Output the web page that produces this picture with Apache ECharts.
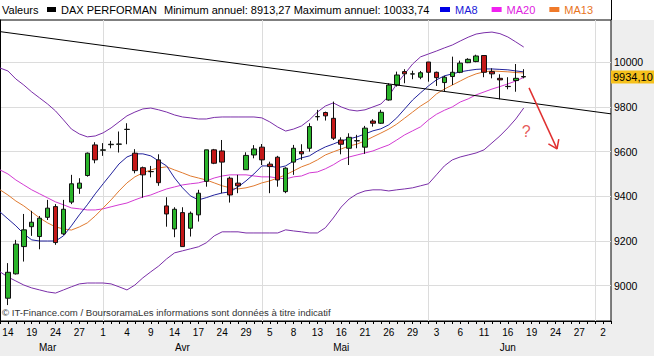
<!DOCTYPE html>
<html>
<head>
<meta charset="utf-8">
<title>DAX PERFORMAN</title>
<script src="https://cdn.jsdelivr.net/npm/echarts@6.0.0/dist/echarts.min.js"></script>
<style>
html,body{margin:0;padding:0;background:#eeeeee;overflow:hidden}
#chart{width:654px;height:356px}
</style>
</head>
<body>
<div id="chart"></div>
<script>
// ---------------- data ----------------
const tradingDays = [
 '2014-03-13','2014-03-14','2014-03-17','2014-03-18','2014-03-19','2014-03-20','2014-03-21','2014-03-24','2014-03-25','2014-03-26','2014-03-27','2014-03-28','2014-03-31',
 '2014-04-01','2014-04-02','2014-04-03','2014-04-04','2014-04-07','2014-04-08','2014-04-09','2014-04-10','2014-04-11','2014-04-14','2014-04-15','2014-04-16','2014-04-17','2014-04-22','2014-04-23','2014-04-24','2014-04-25','2014-04-28','2014-04-29','2014-04-30',
 '2014-05-02','2014-05-05','2014-05-06','2014-05-07','2014-05-08','2014-05-09','2014-05-12','2014-05-13','2014-05-14','2014-05-15','2014-05-16','2014-05-19','2014-05-20','2014-05-21','2014-05-22','2014-05-23','2014-05-26','2014-05-27','2014-05-28','2014-05-29','2014-05-30',
 '2014-06-02','2014-06-03','2014-06-04','2014-06-05','2014-06-06','2014-06-09','2014-06-10','2014-06-11','2014-06-12','2014-06-13','2014-06-16','2014-06-17','2014-06-18','2014-06-19','2014-06-20','2014-06-23','2014-06-24','2014-06-25','2014-06-26','2014-06-27','2014-06-30',
 '2014-07-01','2014-07-02','2014-07-03'
];

const opens = [
 null, 8944, 9053, 9175, 9264, 9220, 9306, 9354, 9232, 9374,
 9436, 9493, 9630, 9606, 9631, 9633, 9699, 9593, 9528, 9510,
 9563, 9357, 9254, 9327, 9257, 9317, 9467, 9608, 9603, 9481,
 9459, 9519, 9585, 9620, 9544, 9575, 9421, 9553, 9600, 9615,
 9756, 9775, 9749, 9652, 9615, 9648, 9620, 9737, 9727, 9831,
 9898, 9958, 9947, 9933, 10001, 9955, 9909, 9936, 9955, 9998,
 10003, 10030, 9958, 9928, 9891, 9918, 9936
];
const closes = [
 null, 9060, 9186, 9250, 9284, 9302, 9347, 9193, 9342, 9456,
 9459, 9593, 9563, 9608, 9633, 9634, 9700, 9515, 9496, 9511,
 9461, 9321, 9342, 9175, 9324, 9414, 9608, 9548, 9553, 9406,
 9447, 9583, 9612, 9563, 9533, 9473, 9526, 9615, 9590, 9712,
 9757, 9760, 9660, 9633, 9664, 9649, 9705, 9727, 9776, 9898,
 9943, 9948, 9948, 9953, 9955, 9931, 9933, 9955, 9996, 10013,
 10028, 9955, 9948, 9921, 9892, 9928, 9934.10
];
const lows = [
 null, 8913.27, 9050, 9108, 9223, 9163, 9294, 9183, 9227, 9365,
 9411, 9488, 9548, 9581, 9615, 9596, 9633, 9503, 9394, 9485,
 9447, 9264, 9217, 9175, 9220, 9287, 9443, 9544, 9414, 9372,
 9414, 9519, 9570, 9540, 9414, 9443, 9414, 9496, 9563, 9600,
 9739, 9739, 9652, 9588, 9540, 9615, 9590, 9712, 9724, 9828,
 9891, 9906, 9924, 9924, 9913, 9894, 9868, 9898, 9951, 9996,
 10000, 9933, 9928, 9834, 9879, 9868, 9928
];
const highs = [
 null, 9101, 9205, 9321, 9335, 9312, 9384, 9365, 9384, 9496,
 9481, 9596, 9642, 9638, 9648, 9690, 9727, 9611, 9533, 9536,
 9588, 9396, 9351, 9351, 9332, 9429, 9608, 9612, 9652, 9488,
 9496, 9597, 9629, 9634, 9555, 9581, 9530, 9630, 9633, 9727,
 9787, 9779, 9824, 9664, 9682, 9675, 9715, 9745, 9787, 9906,
 9958, 9969, 9962, 9961, 10001, 9958, 9939, 10025, 10007, 10018,
 10033.74, 10032, 9973, 9946, 9933, 9992, 9969
];

const ma8 = [
 9330, 9299, 9268, 9232, 9205, 9200, 9200, 9200, 9223, 9268,
 9317, 9362, 9411, 9456, 9500, 9545, 9576, 9590, 9590, 9581,
 9558, 9536, 9482, 9438, 9402, 9384, 9394, 9406, 9415, 9420,
 9442, 9469, 9500, 9536, 9536, 9528, 9536, 9558, 9572, 9581,
 9603, 9621, 9634, 9648, 9657, 9666, 9679, 9693, 9702, 9720,
 9751, 9791, 9831, 9863, 9894, 9921, 9939, 9948, 9957, 9963,
 9968, 9970, 9970, 9968, 9966, 9961, 9957
];
const ma13 = [
 9429, 9406, 9379, 9357, 9330, 9303, 9281, 9263, 9254, 9249,
 9263, 9281, 9312, 9348, 9384, 9424, 9460, 9487, 9505, 9518,
 9527, 9532, 9518, 9505, 9491, 9482, 9473, 9460, 9447, 9438,
 9433, 9438, 9447, 9460, 9469, 9482, 9496, 9514, 9532, 9545,
 9563, 9585, 9599, 9612, 9625, 9634, 9648, 9666, 9683, 9701,
 9723, 9750, 9777, 9804, 9826, 9858, 9880, 9898, 9916, 9934,
 9948, 9957, 9961, 9959, 9957, 9954, 9952
];
const ma20 = [
 9518, 9500, 9473, 9451, 9429, 9411, 9393, 9375, 9362, 9348,
 9344, 9339, 9339, 9344, 9353, 9362, 9370, 9384, 9397, 9406,
 9420, 9433, 9442, 9451, 9456, 9460, 9469, 9482, 9491, 9496,
 9496, 9496, 9491, 9487, 9487, 9482, 9478, 9487, 9491, 9505,
 9509, 9523, 9541, 9563, 9576, 9585, 9594, 9603, 9617, 9630,
 9652, 9675, 9693, 9711, 9742, 9767, 9785, 9800, 9822, 9836,
 9854, 9867, 9880, 9891, 9903, 9916, 9932
];
const bollingerHigh = [
 9974, 9961, 9925, 9898, 9867, 9840, 9813, 9782, 9742, 9701,
 9679, 9666, 9670, 9684, 9706, 9733, 9760, 9777, 9791, 9795,
 9787, 9777, 9764, 9755, 9751, 9746, 9746, 9753, 9755, 9755,
 9755, 9755, 9755, 9751, 9733, 9710, 9692, 9701, 9715, 9742,
 9777, 9804, 9818, 9800, 9787, 9782, 9787, 9800, 9813, 9849,
 9903, 9948, 9992, 10024, 10037, 10050, 10064, 10077, 10095, 10112,
 10126, 10132, 10135, 10128, 10113, 10091, 10068
];
const bollingerLow = [
 9062, 9039, 9021, 9003, 8990, 8981, 8972, 8967, 8981, 8995,
 9008, 9012, 9012, 9012, 9008, 8995, 8981, 9003, 9035, 9062,
 9088, 9120, 9147, 9156, 9165, 9174, 9192, 9223, 9241, 9241,
 9241, 9236, 9236, 9236, 9236, 9236, 9250, 9245, 9241, 9236,
 9236, 9259, 9303, 9352, 9388, 9411, 9424, 9429, 9429, 9424,
 9429, 9433, 9438, 9447, 9456, 9496, 9536, 9563, 9576, 9585,
 9594, 9608, 9639, 9670, 9706, 9746, 9795
];

// hand-drawn annotations, in (trading-day index, price) units
const trendLine = [[0, 10137], [77, 9769]];
const arrowLine = [[66.67, 9885], [70.2, 9612]];
const arrowHead = [[69.11, 9635], [70.2, 9612], [70.42, 9656]];
const questionMark = [[66.3, 9692]];

const monthNames = { '03': 'Mar', '04': 'Avr', '05': 'Mai', '06': 'Jun' };
const annualMin = '8913,27';
const annualMax = '10033,74';
const priceMin = 8842;
const priceMax = 10189;

// ---------------- chart ----------------
const FONT = "'Liberation Sans', Arial, Helvetica, sans-serif";
const lastIndex = tradingDays.length - 1;
const candleData = opens.map((o, i) => o == null ? '-' : [o, closes[i], lows[i], highs[i]]);
const lastClose = closes[closes.length - 1];
const lastLabel = lastClose.toFixed(2).replace('.', ',');

const monthOf = tradingDays.map(d => d.slice(5, 7));
const isMonthStart = monthOf.map((m, i) => i > 0 && m !== monthOf[i - 1]);
const monthCenter = {};
Object.keys(monthNames).forEach(m => {
  const idx = [];
  monthOf.forEach((mm, i) => { if (mm === m) idx.push(i); });
  monthCenter[Math.ceil((idx[0] + idx[idx.length - 1]) / 2)] = monthNames[m];
});

const chart = echarts.init(document.getElementById('chart'), null, { renderer: 'svg', width: 654, height: 356 });

const lineSeries = (name, data, color, z) => ({
  name, type: 'line', data, xAxisIndex: 0, yAxisIndex: 0,
  showSymbol: false, symbol: 'none', smooth: false, silent: true, z: z,
  lineStyle: { color, width: 1 }, itemStyle: { color },
  emphasis: { disabled: true }
});

chart.setOption({
  animation: false,
  backgroundColor: '#eeeeee',
  textStyle: { fontFamily: FONT },
  grid: {
    left: 0, right: 43, top: 20, bottom: 35,
    show: true, backgroundColor: '#ffffff', borderColor: '#000000', borderWidth: 1,
    containLabel: false, outerBoundsMode: 'none'
  },
  legend: [
    {
      left: 47, top: 4, icon: 'rect', itemWidth: 9, itemHeight: 5, itemGap: 14,
      selectedMode: false, padding: 0,
      textStyle: { color: '#000', fontSize: 11, fontFamily: FONT },
      data: [{ name: 'DAX PERFORMAN', itemStyle: { color: '#000000', borderWidth: 0 } }]
    },
    {
      left: 440, top: 4, icon: 'rect', itemWidth: 10, itemHeight: 5, itemGap: 14,
      selectedMode: false, padding: 0,
      textStyle: { fontSize: 11, fontFamily: FONT },
      data: [
        { name: 'MA8', itemStyle: { color: '#0000e6' }, textStyle: { color: '#1a1ad8' } },
        { name: 'MA20', itemStyle: { color: '#f020f0' }, textStyle: { color: '#e020e0' } },
        { name: 'MA13', itemStyle: { color: '#f07a2a' }, textStyle: { color: '#e8741e' } }
      ]
    }
  ],
  xAxis: [
    {
      type: 'category', data: tradingDays, boundaryGap: false, position: 'bottom', z: 1,
      axisLine: { show: true, lineStyle: { color: '#000', width: 1 } },
      axisTick: { show: true, interval: 0, length: 3, inside: false, lineStyle: { color: '#000' } },
      axisLabel: {
        interval: (i) => i % 3 === 1,
        formatter: (v) => String(parseInt(v.slice(8), 10)),
        color: '#000', fontSize: 10, margin: 6, fontFamily: FONT
      },
      splitLine: { show: true, interval: (i) => isMonthStart[i], lineStyle: { color: '#dcdcdc', width: 1 } }
    },
    {
      type: 'category', data: tradingDays, boundaryGap: false, position: 'bottom', offset: 15,
      axisLine: { show: false }, axisTick: { show: false }, splitLine: { show: false },
      axisLabel: {
        interval: (i) => monthCenter[i] !== undefined,
        formatter: (v, i) => monthCenter[i] || '',
        color: '#000', fontSize: 10, margin: 6, fontFamily: FONT
      }
    },
    { type: 'value', min: 0, max: lastIndex, show: false, position: 'top' }
  ],
  yAxis: [
    {
      type: 'value', position: 'right', min: priceMin, max: priceMax, splitNumber: 14, z: 1,
      axisLine: { show: true, lineStyle: { color: '#000', width: 1 } },
      axisTick: { show: true, inside: true, length: 4, lineStyle: { color: '#000' } },
      axisLabel: {
        margin: 3, color: '#000', fontSize: 10.5, fontFamily: FONT,
        showMinLabel: false, showMaxLabel: false,
        formatter: (v) => (Math.abs(v % 200) < 0.001 ? String(Math.round(v)) : '')
      },
      splitLine: { show: false }
    },
    {
      type: 'value', position: 'left', min: priceMin, max: priceMax, splitNumber: 7, z: 0,
      axisLine: { show: false }, axisTick: { show: false }, axisLabel: { show: false },
      splitLine: { show: true, showMinLine: false, showMaxLine: false, lineStyle: { color: '#dcdcdc', width: 1 } }
    }
  ],
  graphic: [
    { type: 'rect', z: -10, silent: true, shape: { x: 0, y: 0, width: 654, height: 20 }, style: { fill: '#ffffff' } },
    { type: 'line', z: 10, silent: true, shape: { x1: 611.5, y1: 0, x2: 611.5, y2: 20 }, style: { stroke: '#000', lineWidth: 1 } },
    { type: 'text', z: 10, left: 2, top: 4, silent: true, style: { text: 'Valeurs', fill: '#000', fontSize: 11, fontFamily: FONT } },
    { type: 'text', z: 10, left: 164, top: 4, silent: true, style: { text: 'Minimum annuel: ' + annualMin + ' Maximum annuel: ' + annualMax, fill: '#000', fontSize: 11, fontFamily: FONT } },
    { type: 'text', z: 10, left: 2, top: 307, silent: true, style: { text: '\u00a9 IT-Finance.com / BoursoramaLes informations sont donn\u00e9es \u00e0 titre indicatif', fill: '#333', fontSize: 9.6, fontFamily: FONT } }
  ],
  series: [
    lineSeries('BB haut', bollingerHigh, '#7a2ea8', 2),
    lineSeries('BB bas', bollingerLow, '#7a2ea8', 2),
    lineSeries('MA20', ma20, '#d23ad2', 2),
    lineSeries('MA13', ma13, '#e07a30', 2),
    lineSeries('MA8', ma8, '#22229c', 2),
    {
      name: 'DAX PERFORMAN', type: 'candlestick', data: candleData, xAxisIndex: 0, yAxisIndex: 0,
      barWidth: 5, silent: true, z: 3,
      itemStyle: { color: '#2ab42a', color0: '#c41818', borderColor: '#111', borderColor0: '#111', borderWidth: 1 },
      emphasis: { disabled: true }
    },
    {
      name: 'Dernier', type: 'line', data: [], xAxisIndex: 0, yAxisIndex: 0, silent: true, z: 6,
      markLine: {
        silent: true, animation: false, symbol: ['none', 'none'],
        lineStyle: { color: 'rgba(0,0,0,0)', width: 0, type: 'solid' },
        label: {
          show: true, position: 'end', distance: 0, formatter: lastLabel,
          backgroundColor: '#f6c11c', color: '#000', fontSize: 11, fontFamily: FONT, padding: [1, 3, 1, 2]
        },
        emphasis: { disabled: true },
        data: [{ yAxis: lastClose }]
      }
    },
    {
      name: 'Tendance', type: 'line', data: trendLine, xAxisIndex: 2, yAxisIndex: 0,
      showSymbol: false, symbol: 'none', silent: true, z: 4, lineStyle: { color: '#000', width: 1 }
    },
    {
      name: 'Fl\u00e8che', type: 'line', data: arrowLine, xAxisIndex: 2, yAxisIndex: 0,
      showSymbol: false, symbol: 'none', silent: true, z: 4, clip: false, lineStyle: { color: '#e03030', width: 1.5 }
    },
    {
      name: 'Pointe', type: 'line', data: arrowHead, xAxisIndex: 2, yAxisIndex: 0,
      showSymbol: false, symbol: 'none', silent: true, z: 4, clip: false, lineStyle: { color: '#e03030', width: 1.5 }
    },
    {
      name: 'Question', type: 'scatter', data: questionMark, xAxisIndex: 2, yAxisIndex: 0,
      symbolSize: 0, silent: true, z: 4, itemStyle: { color: 'transparent' },
      label: { show: true, position: 'inside', formatter: '?', color: '#e03030', fontSize: 16, fontFamily: FONT }
    }
  ]
});
</script>
</body>
</html>
